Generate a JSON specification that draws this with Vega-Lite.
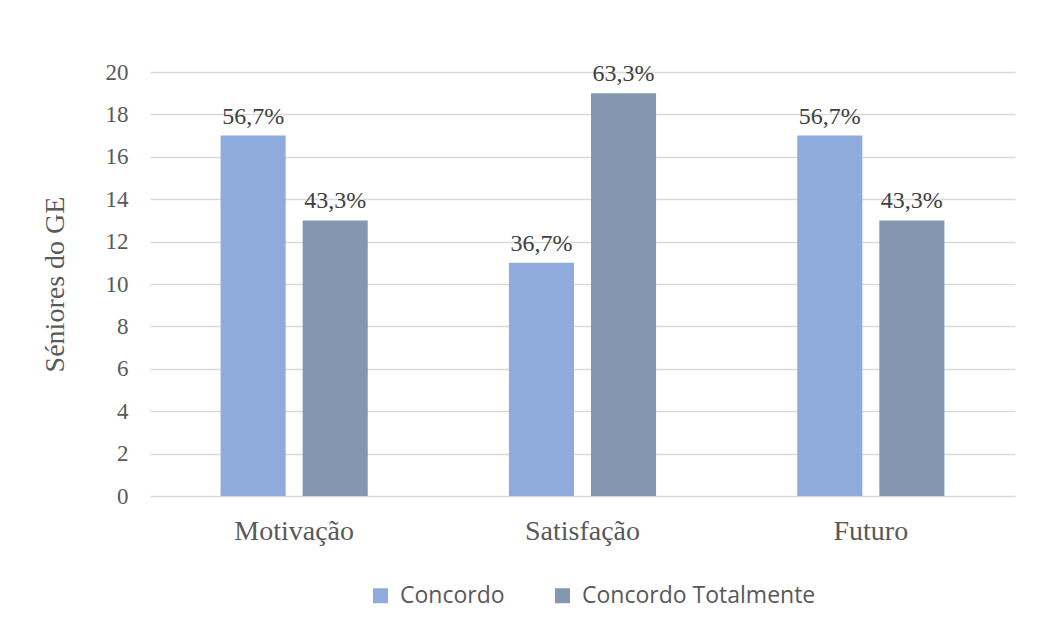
{
  "$schema": "https://vega.github.io/schema/vega-lite/v6.json",
  "width": 865,
  "height": 424,
  "autosize": {"type": "none"},
  "padding": {"left": 150, "top": 72, "right": 36, "bottom": 123},
  "background": "white",
  "config": {"view": {"stroke": null}},
  "data": {
    "values": [
      {"categoria": "Motivação", "resposta": "Concordo", "seniores": 17, "pct": "56,7%"},
      {"categoria": "Motivação", "resposta": "Concordo Totalmente", "seniores": 13, "pct": "43,3%"},
      {"categoria": "Satisfação", "resposta": "Concordo", "seniores": 11, "pct": "36,7%"},
      {"categoria": "Satisfação", "resposta": "Concordo Totalmente", "seniores": 19, "pct": "63,3%"},
      {"categoria": "Futuro", "resposta": "Concordo", "seniores": 17, "pct": "56,7%"},
      {"categoria": "Futuro", "resposta": "Concordo Totalmente", "seniores": 13, "pct": "43,3%"}
    ]
  },
  "encoding": {
    "x": {
      "field": "categoria", "type": "nominal", "sort": ["Motivação", "Satisfação", "Futuro"],
      "scale": {"paddingInner": 0, "paddingOuter": 0},
      "axis": {"title": null, "labelAngle": 0, "domain": false, "ticks": false, "labelFont": "Liberation Serif", "labelFontSize": 28, "labelColor": "#595959", "labelPadding": 21}
    },
    "xOffset": {"field": "resposta", "type": "nominal", "scale": {"paddingInner": 0.207, "paddingOuter": 0.86}},
    "y": {
      "field": "seniores", "type": "quantitative",
      "scale": {"domain": [0, 20]},
      "axis": {"title": "Séniores do GE", "values": [0,2,4,6,8,10,12,14,16,18,20], "domain": false, "ticks": false, "grid": true, "gridColor": "#D9D9D9", "gridWidth": 1.5, "labelFont": "Liberation Serif", "labelFontSize": 23, "labelColor": "#595959", "labelPadding": 22, "titleFont": "Liberation Serif", "titleFontSize": 28, "titleFontWeight": "normal", "titleColor": "#595959", "titlePadding": 36}
    }
  },
  "layer": [
    {
      "mark": {"type": "bar"},
      "encoding": {
        "color": {
          "field": "resposta", "type": "nominal",
          "scale": {"domain": ["Concordo", "Concordo Totalmente"], "range": ["#8FAADC", "#8497B0"]},
          "legend": {"title": null, "orient": "none", "legendX": 219, "legendY": 512, "direction": "horizontal", "symbolType": "square", "symbolSize": 225, "symbolStrokeWidth": 0, "symbolOpacity": 1, "labelFont": "Open Sans", "labelFontSize": 23, "labelColor": "#595959", "labelOffset": 8, "columnPadding": 46, "labelLimit": 0}
        }
      }
    },
    {
      "mark": {"type": "text", "baseline": "bottom", "dy": -7, "font": "Liberation Serif", "fontSize": 24, "color": "#404040"},
      "encoding": {"text": {"field": "pct"}}
    }
  ]
}
